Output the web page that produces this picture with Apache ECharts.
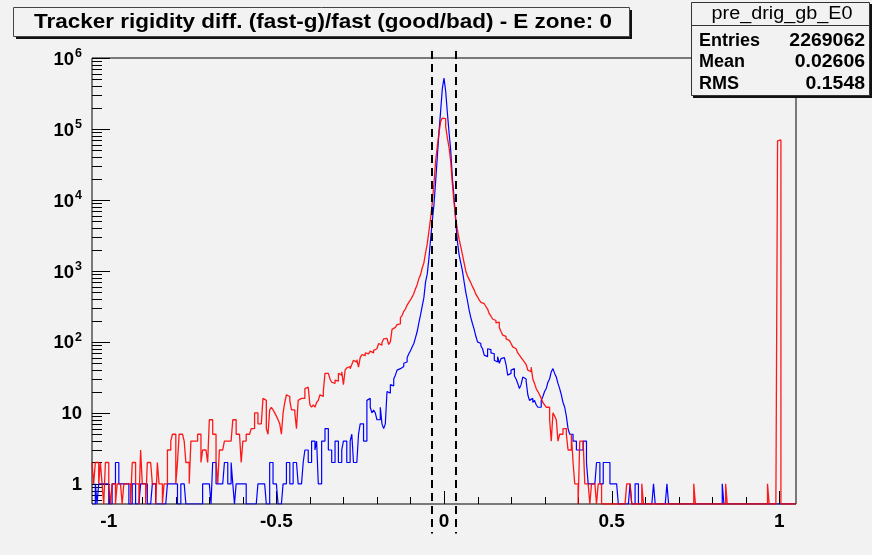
<!DOCTYPE html>
<html><head><meta charset="utf-8">
<script src="https://cdn.jsdelivr.net/npm/echarts@6/dist/echarts.min.js"></script>
<style>html,body{margin:0;padding:0;background:#f2f2f2}#c{width:872px;height:555px}</style>
</head><body><div id="c"></div>
<script>
// ---- histogram definition ----
const X_MIN = -1.05, X_MAX = 1.05, BIN_WIDTH = 0.005;
const Y_MIN = 0.52, Y_MAX = 1e6;

// bad (red) histogram, 420 bins of 0.005 from -1.05 to 1.05
const redCounts = [
  2,1,2,2,1,2,1,0,2,2,1,0,1,1,0,1,1,1,0,1,
  1,1,1,0,2,2,1,1,0,3,1,1,0,2,2,2,1,1,0,2,
  1,1,0,1,1,3,3,4,5,5,1,2,5,5,5,4,2,2,1,4,
  4,4,4,5,5,2,3,3,3,2,8,8,5,5,2,1,3,3,3,4,
  4,4,4,4,8,8,5,5,5,2,4,4,5,5,5,6,6,10,10,7,
  7,7,16,15,6,5,11,12,11,10,9,8,7,5,10,14,18,17,15,11,
  11,10,6,15,16,15,16,22,23,22,13,12,13,12,14,15,18,17,20,36,
  36,34,30,27,26,29,28,36,34,38,25,40,43,45,42,48,55,52,56,44,
  60,66,64,70,68,72,74,70,76,80,78,95,90,98,110,112,105,92,100,150,
  160,165,175,180,220,235,270,290,330,360,390,430,480,560,640,780,880,1100,1300,1800,
  2400,3600,5500,9000,17000,35000,57000,88000,128000,142000,140000,108000,75000,55000,35000,17000,9000,5500,3800,2800,
  2200,1700,1300,1000,850,760,680,600,540,470,430,390,360,345,330,315,290,250,230,210,
  200,185,190,160,140,125,120,110,105,100,95,85,80,75,70,65,60,56,52,48,
  40,38,44,30,26,22,20,18,16,14,13,12,12,8,4,10,9,8,4,5,
  5,6,6,5,3,3,5,2,1,1,0,4,4,4,1,1,1,0,1,1,
  1,0,1,1,0,0,0,0,0,0,0,0,0,0,0,0,0,0,0,1,
  1,1,0,0,0,0,0,0,1,0,0,0,0,0,0,0,0,0,0,0,
  0,0,0,0,0,0,0,0,0,0,0,0,0,0,0,0,0,0,0,1,
  0,0,0,0,0,0,0,0,0,0,0,0,0,0,0,0,0,0,1,0,
  0,0,0,0,0,0,0,0,0,0,0,0,0,0,0,0,0,0,0,0,
  0,0,0,1,0,0,0,0,0,68000,70000,0,0,0,0,0,0,0,0,0
];

// good (blue) histogram, same binning
const blueCounts = [
  0,0,1,0,1,1,1,1,1,1,0,0,1,1,2,2,1,1,1,1,
  1,1,0,0,1,1,0,0,0,1,1,1,1,0,0,0,1,1,0,0,
  0,0,0,0,0,1,1,1,1,1,1,0,0,1,1,1,0,0,0,0,
  0,0,0,0,0,0,1,1,1,1,1,0,2,2,1,1,1,1,1,2,
  2,1,1,2,1,0,1,1,1,1,1,1,0,0,0,0,0,0,0,1,
  1,1,1,1,0,0,2,2,1,1,1,0,0,0,1,1,2,2,1,1,
  2,2,2,1,1,1,2,3,3,2,2,4,4,3,4,1,1,4,4,6,
  6,3,3,2,2,4,4,2,2,3,4,4,2,2,4,5,2,2,2,5,
  7,7,4,4,15,16,12,10,11,10,8,8,12,7,6,7,20,19,25,24,
  30,34,40,42,44,45,50,52,60,68,75,85,95,115,140,185,240,320,420,700,
  900,1500,2800,5000,8500,18000,40000,90000,180000,370000,520000,340000,170000,90000,50000,20000,11000,5000,2600,1700,
  1300,1000,700,500,380,280,220,180,150,120,100,95,88,80,65,62,80,78,70,68,
  55,52,62,50,58,60,62,48,34,36,40,42,33,30,26,22,25,32,30,28,
  18,15,16,14,15,13,12,12,15,17,20,22,27,30,38,42,36,32,26,22,
  18,14,12,9,6,5,5,4,4,3,3,3,3,4,4,2,1,1,1,1,
  1,2,2,1,1,2,2,2,2,1,1,1,1,1,0,0,0,0,0,0,
  0,1,0,0,1,1,0,0,0,0,0,0,0,0,0,1,0,0,0,0,
  0,0,0,1,0,0,0,0,0,0,0,0,0,0,0,0,0,0,0,0,
  0,0,0,0,0,0,0,0,0,0,0,0,0,0,0,0,1,0,0,0,
  0,0,0,0,0,0,0,0,0,0,0,0,0,0,0,0,0,0,0,0,
  0,0,0,0,0,0,0,0,0,0,0,0,0,0,0,0,0,0,0,0
];

const xLabelValues = [-1, -0.5, 0, 0.5, 1];
const yLabelValues = [1, 10, 100, 1000, 1e4, 1e5, 1e6];
const cutValues = [-0.035, 0.035];
const titleText = 'Tracker rigidity diff. (fast-g)/fast (good/bad) - E zone: 0';
const statsName = 'pre_drig_gb_E0';
const statsRows = [['Entries', '2269062'], ['Mean', '0.02606'], ['RMS', '0.1548']];

// ---- build outlines (zero bins drawn at the bottom of the log frame) ----
function outline(counts) {
  const pts = [];
  counts.forEach((c, i) => {
    const lo = +(X_MIN + i * BIN_WIDTH).toFixed(4);
    const hi = +(lo + BIN_WIDTH).toFixed(4);
    const v = c > 0 ? c : Y_MIN;
    pts.push([lo, v], [hi, v]);
  });
  return pts;
}

// tick positions (ROOT style: inside ticks, minor every 0.1 / 2..9 per decade)
const xTickData = [];
for (let k = -10; k <= 10; k++) xTickData.push([k / 10, Y_MIN, k % 5 === 0 ? 1 : 0]);
const yTickData = [];
for (let d = -1; d <= 5; d++) {
  for (let m = 1; m <= 9; m++) {
    const v = m * Math.pow(10, d);
    if (v >= Y_MIN && v <= Y_MAX) yTickData.push([X_MIN, v, m === 1 ? 1 : 0]);
  }
}
yTickData.push([X_MIN, 1e6, 1]);

const FONT = 'Liberation Sans, Arial, Helvetica, sans-serif';
const sx = v => Math.round(v) + 0.5;

const chart = echarts.init(document.getElementById('c'), null, {renderer: 'canvas'});
chart.setOption({
  animation: false,
  backgroundColor: '#f2f2f2',
  grid: {left: 92, top: 58, width: 704, height: 446, show: true, borderColor: '#000', borderWidth: 1, backgroundColor: 'transparent'},
  xAxis: {
    type: 'value', min: X_MIN, max: X_MAX,
    axisLine: {show: false}, axisTick: {show: false}, splitLine: {show: false},
    axisLabel: {
      customValues: xLabelValues, margin: 8,
      fontFamily: FONT, fontWeight: 'bold', fontSize: 19, color: '#000',
      formatter: v => String(v)
    }
  },
  yAxis: {
    type: 'log', logBase: 10, min: Y_MIN, max: Y_MAX,
    axisLine: {show: false}, axisTick: {show: false}, splitLine: {show: false},
    axisLabel: {
      customValues: yLabelValues, margin: 10,
      formatter: v => {
        const e = Math.round(Math.log10(v));
        if (e === 0) return '{b|1}';
        if (e === 1) return '{b|10}';
        return '{b|10}{s|' + e + '}';
      },
      rich: {
        b: {fontFamily: FONT, fontWeight: 'bold', fontSize: 18.5, color: '#000', lineHeight: 22, verticalAlign: 'bottom'},
        s: {fontFamily: FONT, fontWeight: 'bold', fontSize: 12.5, color: '#000', lineHeight: 22, verticalAlign: 'top', padding: [0, 0, 6, 1]}
      }
    }
  },
  graphic: [
    {type: 'rect', shape: {x: 16, y: 10, width: 616, height: 29}, style: {fill: '#111'}, z: 10},
    {type: 'rect', shape: {x: 13.5, y: 7.5, width: 616, height: 29}, style: {fill: '#f2f2f2', stroke: '#444', lineWidth: 1}, z: 11},
    {type: 'text', x: 34, y: 22.5, scaleX: 1.07, z: 12, style: {text: titleText, fontFamily: FONT, fontWeight: 'bold', fontSize: 21, fill: '#000', verticalAlign: 'middle', align: 'left'}},
    {type: 'rect', shape: {x: 693, y: 4, width: 180, height: 94}, style: {fill: '#111'}, z: 10},
    {type: 'rect', shape: {x: 691.5, y: 2.5, width: 178, height: 93}, style: {fill: '#f2f2f2', stroke: '#333', lineWidth: 1}, z: 11},
    {type: 'line', shape: {x1: 691.5, y1: 25.5, x2: 869.5, y2: 25.5}, style: {stroke: '#333', lineWidth: 1}, z: 12},
    {type: 'text', x: 782, y: 14, scaleX: 1.1, z: 12, style: {text: statsName, fontFamily: FONT, fontSize: 18, fill: '#000', align: 'center', verticalAlign: 'middle'}},
    ...statsRows.flatMap((r, i) => [
      {type: 'text', x: 699, y: 41 + i * 21.5, z: 12, style: {text: r[0], fontFamily: FONT, fontWeight: 'bold', fontSize: 18, fill: '#000', align: 'left', verticalAlign: 'middle'}},
      {type: 'text', x: 865, y: 41 + i * 21.5, scaleX: 1.08, z: 12, style: {text: r[1], fontFamily: FONT, fontWeight: 'bold', fontSize: 18, fill: '#000', align: 'right', verticalAlign: 'middle'}}
    ])
  ],
  series: [
    {
      type: 'custom', name: 'xticks', data: xTickData, clip: false, silent: true, z: 3,
      renderItem: (params, api) => {
        const p = api.coord([api.value(0), api.value(1)]);
        const len = api.value(2) ? 13 : 7;
        const x = sx(p[0]);
        return {type: 'line', shape: {x1: x, y1: p[1], x2: x, y2: p[1] - len}, style: {stroke: '#000', lineWidth: 1}};
      }
    },
    {
      type: 'custom', name: 'yticks', data: yTickData, clip: false, silent: true, z: 3,
      renderItem: (params, api) => {
        const p = api.coord([api.value(0), api.value(1)]);
        const len = api.value(2) ? 18 : 10;
        const y = sx(p[1]);
        return {type: 'line', shape: {x1: p[0], y1: y, x2: p[0] + len, y2: y}, style: {stroke: '#000', lineWidth: 1}};
      }
    },
    {
      type: 'line', name: 'good', data: outline(blueCounts), showSymbol: false, symbol: 'none',
      lineStyle: {color: '#0000ff', width: 1.2}, itemStyle: {color: '#0000ff'}, z: 4, clip: true, silent: true
    },
    {
      type: 'line', name: 'bad', data: outline(redCounts), showSymbol: false, symbol: 'none',
      lineStyle: {color: '#ff0000', width: 1.3, opacity: 0.9}, itemStyle: {color: '#ff0000'}, z: 5, clip: true, silent: true
    },
    {
      type: 'custom', name: 'cuts', data: cutValues.map(v => [v, 1]), clip: false, silent: true, z: 6,
      renderItem: (params, api) => {
        const v = api.value(0);
        const top = api.coord([v, 1.25e6]);
        const bot = api.coord([v, 0.2]);
        const x = Math.round(top[0]);
        return {type: 'line', shape: {x1: x, y1: top[1], x2: x, y2: bot[1]}, style: {stroke: '#000', lineWidth: 2, lineDash: [8, 5]}};
      }
    }
  ]
});
</script></body></html>
